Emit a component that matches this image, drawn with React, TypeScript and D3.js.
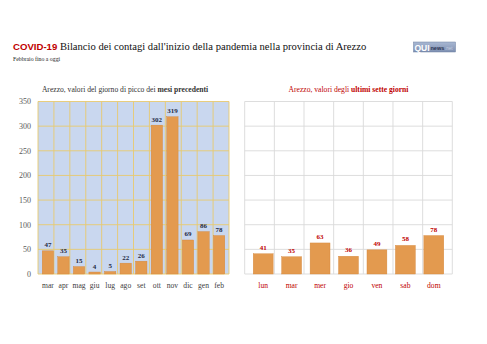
import React from "react";
import * as d3 from "d3";

const months = ["mar", "apr", "mag", "giu", "lug", "ago", "set", "ott", "nov", "dic", "gen", "feb"];
const peakValues = [47, 35, 15, 4, 5, 22, 26, 302, 319, 69, 86, 78];
const days = ["lun", "mar", "mer", "gio", "ven", "sab", "dom"];
const weekValues = [41, 35, 63, 36, 49, 58, 78];
const yTicks = [0, 50, 100, 150, 200, 250, 300, 350];

const SERIF = "'Liberation Serif', 'DejaVu Serif', serif";
const SANS = "'Liberation Sans', Arial, sans-serif";
const BAR = "#e39a4f";
const BAR_STROKE = "#d48538";

export default function App() {
  const top = 101.5;
  const bottom = 274;
  const y = d3.scaleLinear().domain([0, 350]).range([bottom, top]);

  const xL = d3.scaleBand().domain(months.map((m, i) => m + i)).range([38, 229]).padding(0.27);
  const xR = d3.scaleBand().domain(days).range([244.7, 452.3]).padding(0.3);

  const leftBounds = d3.range(months.length + 1).map((i) => 38 + (i * (229 - 38)) / months.length);
  const rightBounds = d3.range(days.length + 1).map((i) => 244.7 + (i * (452.3 - 244.7)) / days.length);

  return (
    <svg width={487} height={344} style={{ position: "absolute", left: 0, top: 0, background: "#fff" }}>
      <defs>
        <linearGradient id="logo" x1="0" x2="0" y1="0" y2="1">
          <stop offset="0" stopColor="#a9b8d3" />
          <stop offset="1" stopColor="#7d8fb1" />
        </linearGradient>
      </defs>
      {/* Title */}
      <text x={13} y={50} fontFamily={SERIF} fontSize={10.6} fill="#111">
        <tspan fontFamily={SANS} fontWeight="bold" fill="#c00000" fontSize={9.6}>COVID-19</tspan>
        <tspan> Bilancio dei contagi dall'inizio della pandemia nella provincia di Arezzo</tspan>
      </text>
      <text x={13} y={60.5} fontFamily={SERIF} fontSize={5.8} fill="#222">Febbraio fino a oggi</text>
      {/* Logo */}
      <rect x={413.5} y={42} width={42} height={10} fill="url(#logo)" stroke="#6d7fa0" strokeWidth={0.5} />
      <text x={414.5} y={50.6} fontFamily={SANS} fontWeight="bold" fontSize={8.5} fill="#fff">QUI</text>
      <text x={430.5} y={50} fontFamily={SANS} fontWeight="bold" fontSize={5.5} fill="#2a3450">news</text>
      <text x={445} y={50} fontFamily={SANS} fontSize={4.5} fill="#c8d0e0">.net</text>

      {/* Left subtitle */}
      <text x={125} y={91.5} textAnchor="middle" fontFamily={SERIF} fontSize={7.6} fill="#333">
        Arezzo, valori del giorno di picco dei <tspan fontWeight="bold">mesi precedenti</tspan>
      </text>
      {/* Right subtitle */}
      <text x={348.5} y={91.5} textAnchor="middle" fontFamily={SERIF} fontSize={7.6} fill="#c00000">
        Arezzo, valori degli <tspan fontWeight="bold">ultimi sette giorni</tspan>
      </text>

      {/* Left chart */}
      <rect x={38} y={top} width={229 - 38} height={bottom - top} fill="#c9d7ef" />
      {yTicks.map((t) => (
        <line key={"lh" + t} x1={38} x2={229} y1={y(t)} y2={y(t)} stroke="#e8c96e" strokeWidth={0.9} />
      ))}
      {leftBounds.map((b, i) => (
        <line key={"lv" + i} x1={b} x2={b} y1={top} y2={bottom} stroke="#e8c96e" strokeWidth={0.9} />
      ))}
      {yTicks.map((t) => (
        <text key={"lt" + t} x={31} y={y(t) + 2.8} textAnchor="end" fontFamily={SERIF} fontSize={8} fill="#595959">
          {t}
        </text>
      ))}
      {peakValues.map((v, i) => {
        const k = months[i] + i;
        const bx = xL(k)!;
        const bw = xL.bandwidth();
        return (
          <g key={k}>
            <rect x={bx} y={y(v)} width={bw} height={bottom - y(v)} fill={BAR} stroke={BAR_STROKE} strokeWidth={0.4} />
            <text x={bx + bw / 2} y={y(v) - 3.5} textAnchor="middle" fontFamily={SERIF} fontWeight="bold" fontSize={7} fill="#1f2a44">
              {v}
            </text>
            <text x={bx + bw / 2} y={288} textAnchor="middle" fontFamily={SERIF} fontSize={7.6} fill="#404040">
              {months[i]}
            </text>
          </g>
        );
      })}

      {/* Right chart */}
      {yTicks.map((t) => (
        <line key={"rh" + t} x1={244.7} x2={452.3} y1={y(t)} y2={y(t)} stroke="#d9d9d9" strokeWidth={0.9} />
      ))}
      {rightBounds.map((b, i) => (
        <line key={"rv" + i} x1={b} x2={b} y1={top} y2={bottom} stroke="#d9d9d9" strokeWidth={0.9} />
      ))}
      {weekValues.map((v, i) => {
        const k = days[i];
        const bx = xR(k)!;
        const bw = xR.bandwidth();
        return (
          <g key={k}>
            <rect x={bx} y={y(v)} width={bw} height={bottom - y(v)} fill={BAR} stroke={BAR_STROKE} strokeWidth={0.4} />
            <text x={bx + bw / 2} y={y(v) - 4} textAnchor="middle" fontFamily={SERIF} fontWeight="bold" fontSize={7} fill="#c00000">
              {v}
            </text>
            <text x={bx + bw / 2} y={288} textAnchor="middle" fontFamily={SERIF} fontSize={7.6} fill="#c00000">
              {k}
            </text>
          </g>
        );
      })}
    </svg>
  );
}
